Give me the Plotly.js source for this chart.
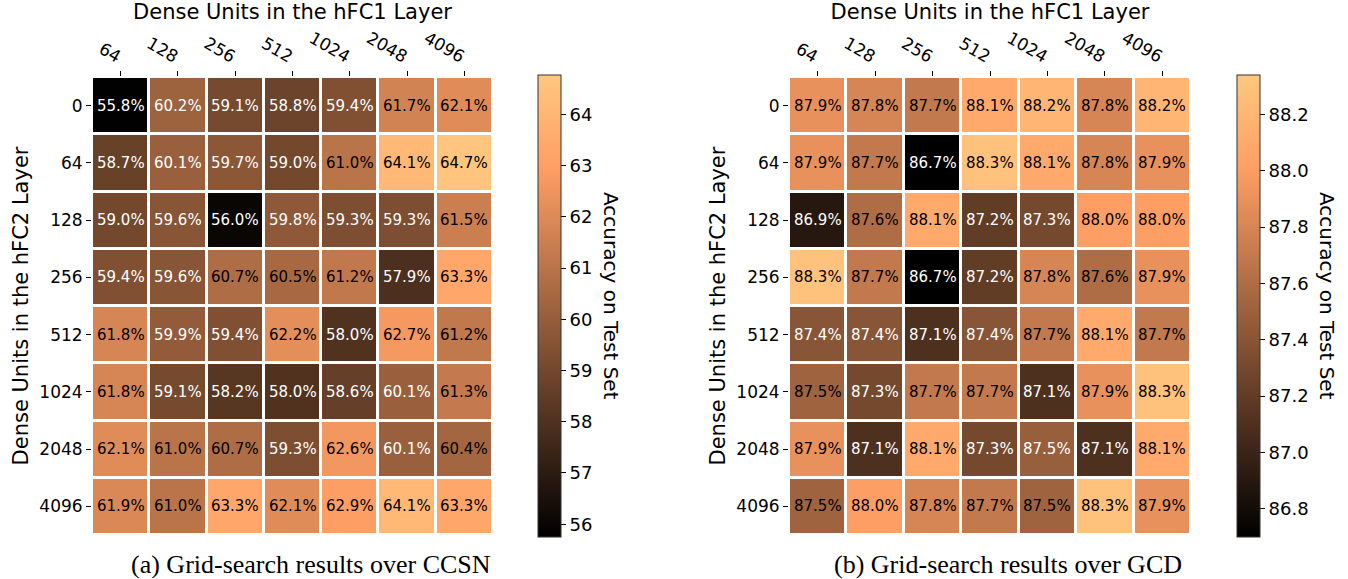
<!DOCTYPE html>
<html>
<head>
<meta charset="utf-8">
<script src="https://cdn.plot.ly/plotly-3.0.1.min.js"></script>
<style>html,body{margin:0;padding:0;background:#fff;}#chart{width:1348px;height:579px;}</style>
</head>
<body>
<div id="chart"></div>
<script>
// ---- Data ----
const hfc1Units = ["64", "128", "256", "512", "1024", "2048", "4096"];
const hfc2Units = ["0", "64", "128", "256", "512", "1024", "2048", "4096"];

const ccsnAcc = [
  [55.8, 60.2, 59.1, 58.8, 59.4, 61.7, 62.1],
  [58.7, 60.1, 59.7, 59.0, 61.0, 64.1, 64.7],
  [59.0, 59.6, 56.0, 59.8, 59.3, 59.3, 61.5],
  [59.4, 59.6, 60.7, 60.5, 61.2, 57.9, 63.3],
  [61.8, 59.9, 59.4, 62.2, 58.0, 62.7, 61.2],
  [61.8, 59.1, 58.2, 58.0, 58.6, 60.1, 61.3],
  [62.1, 61.0, 60.7, 59.3, 62.6, 60.1, 60.4],
  [61.9, 61.0, 63.3, 62.1, 62.9, 64.1, 63.3]
];

const gcdAcc = [
  [87.9, 87.8, 87.7, 88.1, 88.2, 87.8, 88.2],
  [87.9, 87.7, 86.7, 88.3, 88.1, 87.8, 87.9],
  [86.9, 87.6, 88.1, 87.2, 87.3, 88.0, 88.0],
  [88.3, 87.7, 86.7, 87.2, 87.8, 87.6, 87.9],
  [87.4, 87.4, 87.1, 87.4, 87.7, 88.1, 87.7],
  [87.52, 87.3, 87.7, 87.7, 87.1, 87.9, 88.3],
  [87.9, 87.1, 88.1, 87.3, 87.48, 87.1, 88.1],
  [87.52, 88.0, 87.8, 87.7, 87.52, 88.3, 87.9]
];

const ccsnRange = [55.75, 64.77];
const gcdRange = [86.70, 88.34];
const ccsnTicks = [56, 57, 58, 59, 60, 61, 62, 63, 64];
const gcdTicks = [86.8, 87.0, 87.2, 87.4, 87.6, 87.8, 88.0, 88.2];

// ---- Style ----
const W = 1348, H = 579;
const FONT = "DejaVu Sans";
const copper = [[0, "rgb(0,0,0)"], [0.8, "rgb(255,159,101)"], [1, "rgb(255,199,127)"]];

const plotTop = 77, plotBot = 535;
const leftX = [92, 493], rightX = [789, 1191];
const yDom = [1 - plotBot / H, 1 - plotTop / H];

const colIdx = hfc1Units.map((_, i) => i);
const rowIdx = hfc2Units.map((_, i) => i);

function cbar(x, ticks, fmt) {
  return {
    x: x / W, xanchor: "left", xpad: 0,
    y: 1 - (75 + 537) / 2 / H, yanchor: "middle", ypad: 0,
    len: 462 / H, lenmode: "fraction",
    thickness: 23, thicknessmode: "pixels",
    outlinewidth: 1, outlinecolor: "#333",
    ticks: "outside", ticklen: 5, tickcolor: "#000", tickwidth: 1,
    tickvals: ticks, tickformat: fmt,
    tickfont: {family: FONT, size: 18, color: "#000"}
  };
}

const traces = [
  {
    type: "heatmap", x: colIdx, y: rowIdx, z: ccsnAcc,
    xaxis: "x", yaxis: "y",
    colorscale: copper, zmin: ccsnRange[0], zmax: ccsnRange[1],
    xgap: 3, ygap: 3, hoverinfo: "skip",
    colorbar: cbar(538, ccsnTicks, "d")
  },
  {
    type: "heatmap", x: colIdx, y: rowIdx, z: gcdAcc,
    xaxis: "x2", yaxis: "y2",
    colorscale: copper, zmin: gcdRange[0], zmax: gcdRange[1],
    xgap: 3, ygap: 3, hoverinfo: "skip",
    colorbar: cbar(1237, gcdTicks, ".1f")
  }
];

function xAxis(dom, anchor) {
  return {
    domain: [dom[0] / W, dom[1] / W], anchor: anchor,
    range: [-0.5, hfc1Units.length - 0.5],
    tickvals: colIdx, ticktext: hfc1Units,
    side: "top", tickangle: 30, ticks: "outside", ticklen: 5, tickcolor: "#000",
    showgrid: false, zeroline: false, showline: false,
    tickfont: {family: FONT, size: 17, color: "#000"},
    title: {text: "Dense Units in the hFC1 Layer", font: {family: FONT, size: 21, color: "#000"}, standoff: 6}
  };
}
function yAxis(anchor) {
  return {
    domain: yDom, anchor: anchor,
    range: [hfc2Units.length - 0.5, -0.5],
    tickvals: rowIdx, ticktext: hfc2Units,
    ticks: "outside", ticklen: 5, tickcolor: "#000",
    showgrid: false, zeroline: false, showline: false,
    tickfont: {family: FONT, size: 17, color: "#000"},
    title: {text: "Dense Units in the hFC2 Layer", font: {family: FONT, size: 21, color: "#000"}, standoff: 4}
  };
}

const annotations = [];
function addCellText(z, xref, yref) {
  const flat = z.flat();
  const mid = (Math.min(...flat) + Math.max(...flat)) / 2;
  z.forEach((row, i) => row.forEach((v, j) => {
    annotations.push({
      x: colIdx[j], y: rowIdx[i], xref: xref, yref: yref,
      text: v.toFixed(1) + "%", showarrow: false,
      font: {family: FONT, size: 15, color: v < mid ? "#fff" : "#000"}
    });
  }));
}
addCellText(ccsnAcc, "x", "y");
addCellText(gcdAcc, "x2", "y2");

function paperText(x, y, text, angle, font) {
  annotations.push({x: x / W, y: 1 - y / H, xref: "paper", yref: "paper", text: text,
    xanchor: "center", yanchor: "middle", textangle: angle, showarrow: false, font: font});
}
// colorbar titles
paperText(611, 296, "Accuracy on Test Set", 90, {family: FONT, size: 20, color: "#000"});
paperText(1327, 296, "Accuracy on Test Set", 90, {family: FONT, size: 20, color: "#000"});
// captions
paperText(311, 564, "(a) Grid-search results over CCSN", 0, {family: "Liberation Serif", size: 26, color: "#000"});
paperText(1008, 564, "(b) Grid-search results over GCD", 0, {family: "Liberation Serif", size: 26, color: "#000"});

const layout = {
  width: W, height: H,
  margin: {l: 0, r: 0, t: 0, b: 0},
  paper_bgcolor: "#fff", plot_bgcolor: "#fff",
  showlegend: false,
  xaxis: xAxis(leftX, "y"),
  yaxis: yAxis("x"),
  xaxis2: xAxis(rightX, "y2"),
  yaxis2: yAxis("x2"),
  annotations: annotations
};

Plotly.newPlot("chart", traces, layout, {displayModeBar: false, staticPlot: true});
</script>
</body>
</html>
